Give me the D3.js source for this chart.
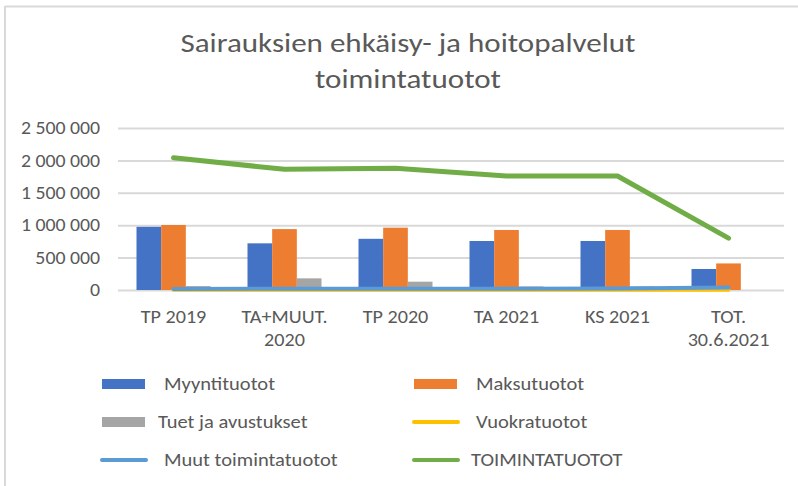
<!DOCTYPE html>
<meta charset="utf-8">
<script src="https://d3js.org/d3.v7.min.js"></script>
<style>
body { margin: 0; background: #fff; }
text { font-family: Carlito, "Liberation Sans Narrow", "Liberation Sans", Arial, sans-serif; fill: #595959; }
</style>
<body>
<script>

// data
var categories = ["TP 2019", "TA+MUUT.|2020", "TP 2020", "TA 2021", "KS 2021", "TOT.|30.6.2021"];
var myyntituotot = [975000, 720000, 790000, 756000, 756000, 324000];
var maksutuotot = [1003000, 940000, 962000, 926000, 926000, 410000];
var tuet = [60000, 180000, 128000, 55000, 55000, 0];
var vuokratuotot = [3000, 3000, 3000, 3000, 3000, 3000];
var muut = [15000, 20000, 20000, 20000, 25000, 40000];
var toimintatuotot = [2040000, 1862000, 1880000, 1760000, 1760000, 800000];
var yTicks = [0, 500000, 1000000, 1500000, 2000000, 2500000];

var barSeries = [
    {name: "Myyntituotot", values: myyntituotot, color: "#4472c4"},
    {name: "Maksutuotot", values: maksutuotot, color: "#ed7d31"},
    {name: "Tuet ja avustukset", values: tuet, color: "#a5a5a5"}
];
var lineSeries = [
    {name: "Vuokratuotot", values: vuokratuotot, color: "#ffc000", w: 4},
    {name: "Muut toimintatuotot", values: muut, color: "#5b9bd5", w: 4},
    {name: "TOIMINTATUOTOT", values: toimintatuotot, color: "#70ad47", w: 5}
];

var width = 798, height = 486;
var svg = d3.select("body").append("svg")
    .attr("width", width)
    .attr("height", height);

// the picture is a bit wider than tall, so text gets a horizontal stretch
function stretch(sel, k) {
    sel.each(function() {
        var a = +d3.select(this).attr("x") || +d3.select(this).select("tspan").attr("x") || 0;
        d3.select(this).attr("transform", "translate(" + (a * (1 - k)) + ",0) scale(" + k + ",1)");
    });
}

// frame (top and left edge only are visible)
svg.append("line").attr("x1", 5).attr("x2", width).attr("y1", 6.5).attr("y2", 6.5)
    .attr("stroke", "#d9d9d9").attr("stroke-width", 2);
svg.append("line").attr("x1", 5).attr("x2", 5).attr("y1", 6).attr("y2", height)
    .attr("stroke", "#d9d9d9").attr("stroke-width", 2);

// title
var title = svg.append("text")
    .attr("text-anchor", "middle")
    .attr("font-size", 27);
title.append("tspan").attr("x", 408).attr("y", 52).text("Sairauksien ehkäisy- ja hoitopalvelut");
title.append("tspan").attr("x", 408).attr("y", 88).text("toimintatuotot");
stretch(title, 1.15);

var x = d3.scaleBand()
    .domain(categories)
    .range([118, 784]);

var x1 = d3.scaleBand()
    .domain(barSeries.map(function(d) { return d.name; }))
    .range([0, 74]);

var y = d3.scaleLinear()
    .domain([0, 2500000])
    .range([290, 128]);

var fmt = function(v) { return d3.format(",")(v).replace(/,/g, " "); };

// grid lines and y labels
var yAxis = svg.append("g")
    .attr("transform", "translate(118,0)")
    .call(d3.axisLeft(y).tickValues(yTicks).tickSize(-666).tickFormat(fmt).tickPadding(18));
yAxis.select(".domain").remove();
yAxis.selectAll(".tick line").attr("stroke", "#d9d9d9").attr("stroke-width", 2);
yAxis.selectAll(".tick text")
    .attr("font-size", 18)
    .attr("fill", "#595959")
    .attr("font-family", null)
    .call(stretch, 1.1);

// bars
var groups = svg.selectAll(".grp")
    .data(categories)
    .enter()
    .append("g")
    .attr("class", "grp")
    .attr("transform", function(d) {
        return "translate(" + (x(d) + x.bandwidth() / 2 - 37) + ",0)";
    });

groups.selectAll("rect")
    .data(function(d, i) {
        return barSeries.map(function(s) { return {s: s, v: s.values[i]}; });
    })
    .enter()
    .append("rect")
    .attr("x", function(d) { return x1(d.s.name); })
    .attr("width", x1.bandwidth())
    .attr("y", function(d) { return y(d.v); })
    .attr("height", function(d) { return 290 - y(d.v); })
    .attr("fill", function(d) { return d.s.color; });

// lines
var line = d3.line()
    .x(function(d, i) { return x(categories[i]) + x.bandwidth() / 2; })
    .y(function(d) { return y(d); });

lineSeries.forEach(function(s) {
    svg.append("path")
        .datum(s.values)
        .attr("d", line)
        .attr("fill", "none")
        .attr("stroke", s.color)
        .attr("stroke-width", s.w)
        .attr("stroke-linejoin", "round")
        .attr("stroke-linecap", "round");
});

// x labels
var xl = svg.selectAll(".xlab")
    .data(categories)
    .enter()
    .append("text")
    .attr("class", "xlab")
    .attr("text-anchor", "middle")
    .attr("font-size", 18);
xl.each(function(d) {
    var parts = d.split("|");
    var t = d3.select(this);
    parts.forEach(function(p, k) {
        t.append("tspan")
            .attr("x", x(d) + x.bandwidth() / 2)
            .attr("y", 323 + k * 23)
            .text(p);
    });
});
stretch(xl, 1.12);

// legend
var legendItems = [
    {s: barSeries[0], type: "bar", sx: 102, tx: 164, y: 384},
    {s: barSeries[1], type: "bar", sx: 414, tx: 476, y: 384},
    {s: barSeries[2], type: "bar", sx: 102, tx: 158, y: 422},
    {s: lineSeries[0], type: "line", sx: 414, tx: 476, y: 422},
    {s: lineSeries[1], type: "line", sx: 102, tx: 164, y: 460},
    {s: lineSeries[2], type: "line", sx: 414, tx: 471, y: 460}
];

var lg = svg.selectAll(".lg")
    .data(legendItems)
    .enter()
    .append("g")
    .attr("class", "lg");

lg.filter(function(d) { return d.type == "bar"; })
    .append("rect")
    .attr("x", function(d) { return d.sx; })
    .attr("y", function(d) { return d.y - 5; })
    .attr("width", 43)
    .attr("height", 10)
    .attr("fill", function(d) { return d.s.color; });

lg.filter(function(d) { return d.type == "line"; })
    .append("line")
    .attr("x1", function(d) { return d.sx; })
    .attr("x2", function(d) { return d.sx + 44; })
    .attr("y1", function(d) { return d.y; })
    .attr("y2", function(d) { return d.y; })
    .attr("stroke", function(d) { return d.s.color; })
    .attr("stroke-width", 4)
    .attr("stroke-linecap", "round");

lg.append("text")
    .attr("x", function(d) { return d.tx; })
    .attr("y", function(d) { return d.y + 6.5; })
    .attr("font-size", 18)
    .text(function(d) { return d.s.name; })
    .call(stretch, 1.14);

</script>
</body>
